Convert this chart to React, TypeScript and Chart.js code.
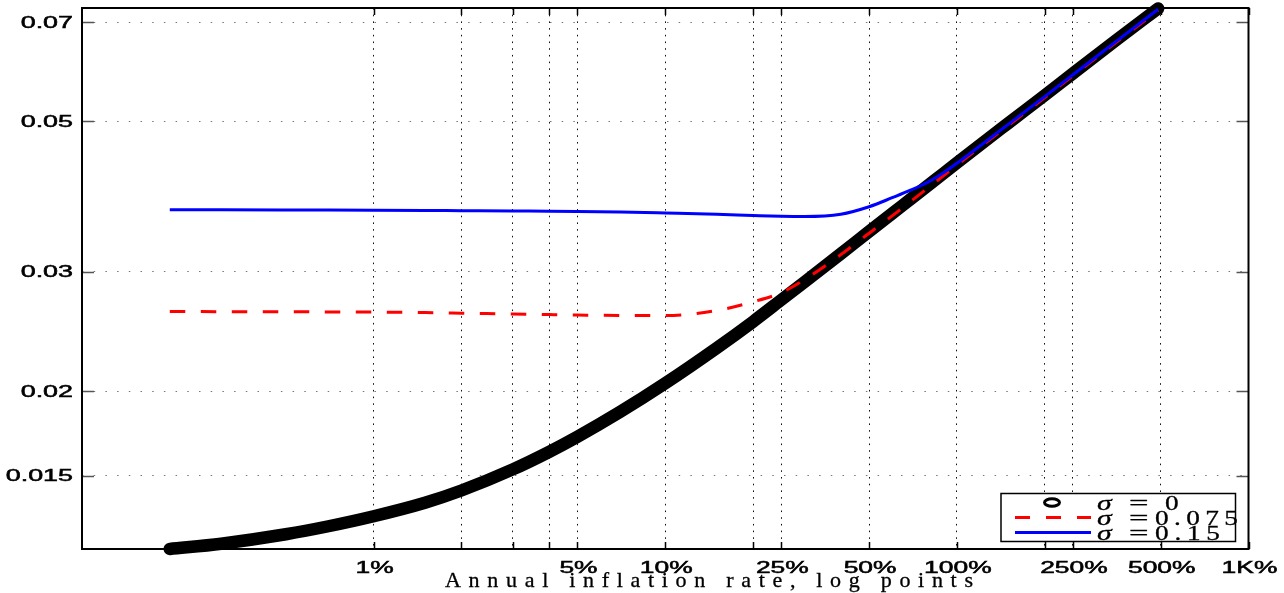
import React, { useEffect, useRef } from "react";
import { Chart, registerables } from "chart.js";

Chart.register(...registerables);

// ---- data (x in %, y values) ----
const inflationPct = [0.2, 0.3, 0.5, 0.7, 1, 1.5, 2, 3, 4, 5, 7, 10, 15, 20, 25, 30, 40, 50, 60, 70, 80, 90, 100, 150, 200, 250, 350, 490];
const sigma0 = [0.0117, 0.011913, 0.012301, 0.01264, 0.013077, 0.013691, 0.014272, 0.015332, 0.016275, 0.017132, 0.018639, 0.020545, 0.023154, 0.025328, 0.027268, 0.028971, 0.0319, 0.034399, 0.036567, 0.038518, 0.040285, 0.041904, 0.043441, 0.049698, 0.054621, 0.058847, 0.065786, 0.0734];
const sigma0075 = [0.02622, 0.0262, 0.02619, 0.02618, 0.02616, 0.02612, 0.02607, 0.026, 0.02594, 0.0259, 0.02587, 0.02586, 0.0263, 0.02709, 0.02795, 0.0292, 0.0318, 0.0342, 0.03628, 0.0382, 0.03996, 0.04157, 0.0431, 0.0493, 0.0542, 0.0584, 0.0653, 0.0729];
const sigma015 = [0.03705, 0.03703, 0.03701, 0.037, 0.03698, 0.03695, 0.03692, 0.03688, 0.03686, 0.03683, 0.03675, 0.03663, 0.03648, 0.03633, 0.03623, 0.0362, 0.03648, 0.037422, 0.038583, 0.039646, 0.040739, 0.042003, 0.043382, 0.0495, 0.0544, 0.0586, 0.0655, 0.0732];

const xGridTicks = [1, 2, 3, 4, 5, 10, 20, 25, 50, 100, 200, 250, 500, 1000];
const xLabelValues = [1, 5, 10, 25, 50, 100, 250, 500, 1000];
const xLabelTexts = ["1%", "5%", "10%", "25%", "50%", "100%", "250%", "500%", "1K%"];
const yTickValues = [0.015, 0.02, 0.03, 0.05, 0.07];
const yTickLabels = ["0.015", "0.02", "0.03", "0.05", "0.07"];
const legendValues = ["0", "0.075", "0.15"];
const xTitle = "Annual inflation rate, log points";

const SANS = '"Liberation Sans", Arial, sans-serif';
const SERIF = '"Liberation Serif", "Times New Roman", serif';

function drawStretched(ctx: CanvasRenderingContext2D, text: string, x: number, y: number, sx: number, align: CanvasTextAlign, stroke = 0) {
  ctx.save();
  ctx.translate(x, y);
  ctx.scale(sx, 1);
  ctx.textAlign = align;
  ctx.fillText(text, 0, 0);
  if (stroke > 0) {
    ctx.lineWidth = stroke;
    ctx.strokeStyle = ctx.fillStyle as string;
    ctx.strokeText(text, 0, 0);
  }
  ctx.restore();
}

function drawSpaced(ctx: CanvasRenderingContext2D, text: string, x0: number, x1: number, y: number, sx: number, stroke = 0) {
  const chars = Array.from(text);
  const widths = chars.map((c) => ctx.measureText(c).width * sx);
  const total = widths.reduce((a, b) => a + b, 0);
  const gap = chars.length > 1 ? (x1 - x0 - total) / (chars.length - 1) : 0;
  let x = x0;
  chars.forEach((c, i) => {
    drawStretched(ctx, c, x, y, sx, "left", stroke);
    x += widths[i] + gap;
  });
}

const framePlugin = {
  id: "matlabFrame",
  beforeDatasetsDraw(chart: any) {
    const { ctx, chartArea: a, scales } = chart;
    ctx.save();
    ctx.strokeStyle = "#000";
    ctx.lineWidth = 1.5;
    xGridTicks.forEach((v) => {
      const x = Math.round(scales.x.getPixelForValue(v)) + 0.5;
      ctx.beginPath();
      ctx.moveTo(x, a.bottom);
      ctx.lineTo(x, a.bottom - 7);
      ctx.moveTo(x, a.top);
      ctx.lineTo(x, a.top + 7);
      ctx.stroke();
    });
    ctx.strokeStyle = "#555";
    yTickValues.forEach((v) => {
      const y = Math.round(scales.y.getPixelForValue(v)) + 0.5;
      ctx.beginPath();
      ctx.moveTo(a.left, y);
      ctx.lineTo(a.left + 12, y);
      ctx.moveTo(a.right, y);
      ctx.lineTo(a.right - 12, y);
      ctx.stroke();
    });
    ctx.lineWidth = 2;
    ctx.strokeStyle = "#000";
    ctx.strokeRect(a.left, a.top, a.right - a.left, a.bottom - a.top);
    ctx.restore();
  },
  afterDraw(chart: any) {
    const { ctx, chartArea: a, scales } = chart;
    ctx.save();
    ctx.fillStyle = "#000";
    // y tick labels
    ctx.font = `16px ${SANS}`;
    ctx.textBaseline = "middle";
    yTickValues.forEach((v, i) => {
      const y = scales.y.getPixelForValue(v) + 1;
      drawStretched(ctx, yTickLabels[i], a.left - 9, y, 1.68, "right", 0.5);
    });
    // x tick labels
    ctx.textBaseline = "alphabetic";
    xLabelValues.forEach((v, i) => {
      const x = scales.x.getPixelForValue(v);
      drawStretched(ctx, xLabelTexts[i], x + 1, 573, 1.65, "center", 0.5);
    });
    // x title
    ctx.font = `21px ${SERIF}`;
    drawSpaced(ctx, xTitle, 445, 973, 587, 1.05, 0.3);

    // legend box
    const lx0 = 1001, ly0 = 493.5, lx1 = 1235.5, ly1 = 541.5;
    ctx.fillStyle = "#fff";
    ctx.fillRect(lx0, ly0, lx1 - lx0, ly1 - ly0);
    ctx.strokeStyle = "#000";
    ctx.lineWidth = 1.5;
    ctx.strokeRect(lx0, ly0, lx1 - lx0, ly1 - ly0);
    const rows = [502.5, 517.5, 532.5];
    ctx.lineWidth = 3;
    ctx.beginPath();
    ctx.ellipse(1052, rows[0], 7.5, 3.8, 0, 0, Math.PI * 2);
    ctx.stroke();
    ctx.strokeStyle = "#ff0000";
    ctx.setLineDash([15, 16]);
    ctx.beginPath();
    ctx.moveTo(1015, rows[1]);
    ctx.lineTo(1091, rows[1]);
    ctx.stroke();
    ctx.setLineDash([]);
    ctx.strokeStyle = "#0000ff";
    ctx.beginPath();
    ctx.moveTo(1015, rows[2]);
    ctx.lineTo(1091, rows[2]);
    ctx.stroke();
    ctx.fillStyle = "#000";
    const baselines = [509.5, 524.5, 539.5];
    const valueSpans = [[1165, 1178], [1155, 1238], [1155, 1220]];
    legendValues.forEach((val, i) => {
      ctx.font = `italic 22px ${SERIF}`;
      drawStretched(ctx, "\u03C3", 1097, baselines[i], 1.35, "left", 0.3);
      ctx.font = `21px ${SERIF}`;
      drawStretched(ctx, "=", 1129, baselines[i], 1.65, "left", 0.3);
      drawSpaced(ctx, val, valueSpans[i][0], valueSpans[i][1], baselines[i], 1.3, 0.3);
    });
    ctx.restore();
  },
};

export default function App() {
  const ref = useRef<HTMLCanvasElement>(null);
  useEffect(() => {
    if (!ref.current) return;
    const pts = (ys: number[]) => inflationPct.map((x, i) => ({ x, y: ys[i] }));
    const chart = new Chart(ref.current, {
      type: "line",
      data: {
        datasets: [
          {
            label: "\u03C3 = 0",
            data: pts(sigma0),
            borderColor: "#000",
            borderWidth: 12.5,
            borderCapStyle: "round",
            borderJoinStyle: "round",
            pointRadius: 0,
            cubicInterpolationMode: "monotone",
            clip: false,
            order: 3,
          } as any,
          {
            label: "\u03C3 =0.075",
            data: pts(sigma0075),
            borderColor: "#ff0000",
            borderWidth: 3,
            borderDash: [15.5, 15.5],
            pointRadius: 0,
            cubicInterpolationMode: "monotone",
            clip: false,
            order: 2,
          } as any,
          {
            label: "\u03C3 =0.15",
            data: pts(sigma015),
            borderColor: "#0000ff",
            borderWidth: 3,
            pointRadius: 0,
            cubicInterpolationMode: "monotone",
            clip: false,
            order: 1,
          } as any,
        ],
      },
      options: {
        responsive: false,
        animation: false,
        events: [],
        layout: { padding: { top: 8, right: 35.5, left: 0, bottom: 0 } },
        plugins: { legend: { display: false }, tooltip: { enabled: false }, title: { display: false } },
        scales: {
          x: {
            type: "logarithmic",
            min: 0.1,
            max: 1000,
            afterBuildTicks: (s: any) => {
              s.ticks = xGridTicks.map((v) => ({ value: v }));
            },
            afterFit: (s: any) => {
              s.height = 44;
            },
            ticks: { display: false },
            grid: { color: "#111", lineWidth: 1, drawTicks: false },
            border: { display: false, dash: [1.6, 5.1] },
          },
          y: {
            type: "logarithmic",
            min: 0.0117,
            max: 0.0735,
            afterBuildTicks: (s: any) => {
              s.ticks = yTickValues.map((v) => ({ value: v }));
            },
            afterFit: (s: any) => {
              s.width = 82;
            },
            ticks: { display: false },
            grid: { color: "#777", lineWidth: 1, drawTicks: false },
            border: { display: false, dash: [1.5, 10.2] },
          },
        },
      },
      plugins: [framePlugin],
    });
    return () => chart.destroy();
  }, []);
  return (
    <div style={{ position: "absolute", left: 0, top: 0, width: 1284, height: 593, background: "#fff" }}>
      <canvas ref={ref} width={1284} height={593} style={{ display: "block", width: 1284, height: 593 }} />
    </div>
  );
}
